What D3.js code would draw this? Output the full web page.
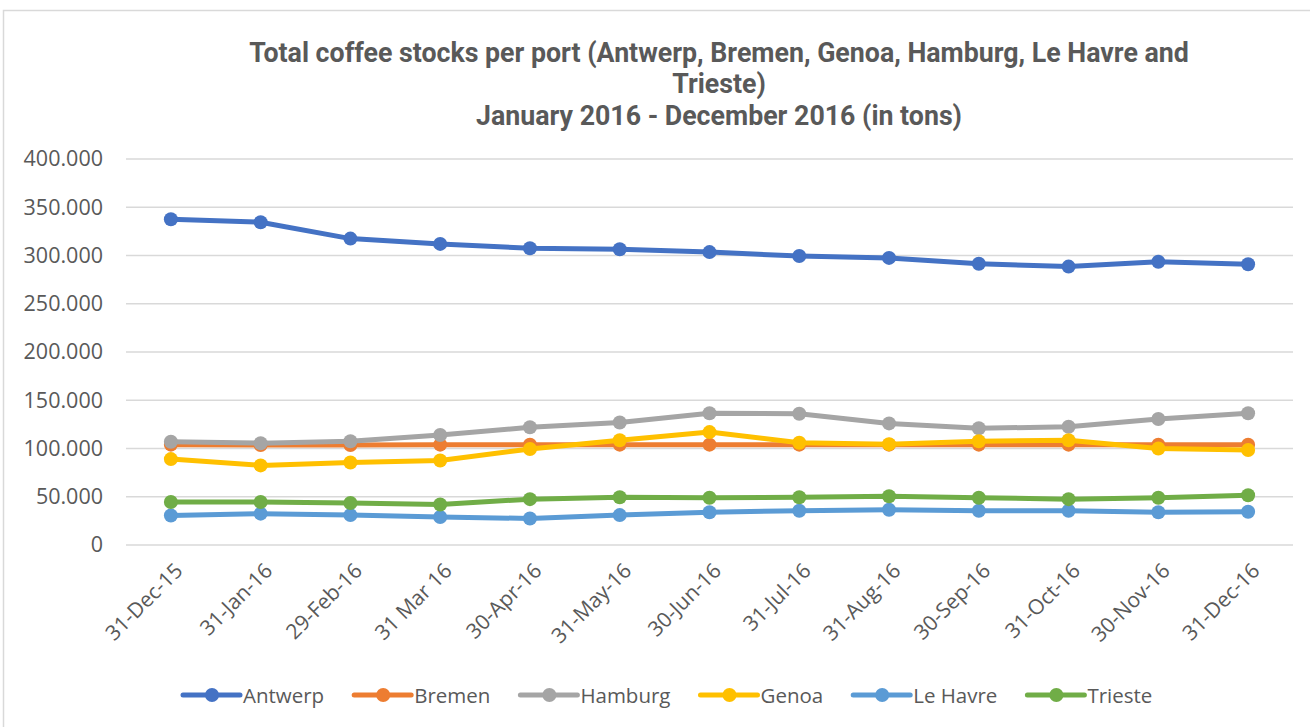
<!DOCTYPE html>
<html><head><meta charset="utf-8">
<script src="https://cdn.jsdelivr.net/npm/d3@7"></script>
<style>body{margin:0;background:#fff;}svg{display:block;}</style>
</head><body>
<svg id="chart" width="1310" height="727"></svg>
<script>
const categories = ["31-Dec-15","31-Jan-16","29-Feb-16","31 Mar 16","30-Apr-16","31-May-16","30-Jun-16","31-Jul-16","31-Aug-16","30-Sep-16","31-Oct-16","30-Nov-16","31-Dec-16"];
const antwerp = [337500,334500,317500,312000,307500,306500,303500,299500,297500,291500,288500,293500,291000];
const bremen  = [104000,103500,103500,104000,104000,104000,104000,104000,104000,104000,104000,104000,104000];
const hamburg = [107000,105500,107500,114000,122000,127000,136500,136000,126000,121000,122500,130500,136500];
const genoa   = [89000,82500,85500,87500,99500,108500,117000,106000,104500,107500,108500,100000,98500];
const leHavre = [30500,32500,31000,29000,27500,31000,34000,35500,36500,35500,35500,34000,34500];
const trieste = [44500,44500,43500,42000,47500,49500,49000,49500,50500,49000,47500,49000,51500];
const seriesNames = ["Antwerp","Bremen","Hamburg","Genoa","Le Havre","Trieste"];
const seriesColors = ["#4472C4","#ED7D31","#A5A5A5","#FFC000","#5B9BD5","#70AD47"];
const yTicks = [0,50000,100000,150000,200000,250000,300000,350000,400000];
const titleLines = ["Total coffee stocks per port (Antwerp, Bremen, Genoa, Hamburg, Le Havre and","Trieste)","January 2016 - December 2016 (in tons)"];

const series = [antwerp,bremen,hamburg,genoa,leHavre,trieste].map((v,i)=>({name:seriesNames[i],color:seriesColors[i],values:v}));

const svg = d3.select("#chart");
const FONT = "'Open Sans', 'Noto Sans', sans-serif";
const TEXT = "#595959";
// chart frame
svg.append("rect").attr("x",3.5).attr("y",10.5).attr("width",1320).attr("height",740)
  .attr("fill","#fff").attr("stroke","#d9d9d9").attr("stroke-width",1.5);

const plot = {left:126, right:1293, top:159, bottom:545};
const x = d3.scaleBand().domain(categories).range([plot.left, plot.right]);
const y = d3.scaleLinear().domain([0,400000]).range([plot.bottom, plot.top]);
const fmt = v => v===0 ? "0" : d3.format(",")(v).replace(/,/g,".");

// gridlines
svg.append("g").selectAll("line").data(yTicks).join("line")
  .attr("x1",plot.left).attr("x2",plot.right)
  .attr("y1",d=>y(d)).attr("y2",d=>y(d))
  .attr("stroke","#d9d9d9").attr("stroke-width",1.5);

// y axis labels
const yAxis = d3.axisLeft(y).tickValues(yTicks).tickFormat(fmt).tickSize(0).tickPadding(23);
const yg = svg.append("g").attr("transform",`translate(${plot.left},0)`).call(yAxis);
yg.select(".domain").remove();
yg.selectAll("text").attr("fill",TEXT).style("font-family",FONT).style("font-size","21.5px");

// x axis labels
const xAxis = d3.axisBottom(x).tickSize(0).tickPadding(0);
const xg = svg.append("g").attr("transform",`translate(0,${plot.bottom})`).call(xAxis);
xg.select(".domain").remove();
xg.selectAll("text").attr("fill",TEXT).style("font-family",FONT).style("font-size","21px")
  .attr("text-anchor","end").attr("dy",null).attr("y",0)
  .attr("transform","translate(13,27) rotate(-45)");

// lines
const line = d3.line().x((d,i)=>x(categories[i])+x.bandwidth()/2).y(d=>y(d));
const sg = svg.append("g").selectAll("g").data(series).join("g");
sg.append("path").attr("d",d=>line(d.values)).attr("fill","none").attr("stroke",d=>d.color)
  .attr("stroke-width",5).attr("stroke-linejoin","round").attr("stroke-linecap","round");
sg.selectAll("circle").data(d=>d.values.map((v,i)=>({v,i,color:d.color}))).join("circle")
  .attr("cx",d=>x(categories[d.i])+x.bandwidth()/2).attr("cy",d=>y(d.v)).attr("r",7).attr("fill",d=>d.color);

// title
const tt = svg.append("g").selectAll("text").data(titleLines).join("text")
  .attr("x",719).attr("y",(d,i)=>[62,93,125][i]).attr("text-anchor","middle")
  .attr("fill",TEXT).style("font-family","Roboto, 'Liberation Sans', Arial, sans-serif")
  .style("font-weight","bold").style("font-size","25px").text(d=>d);
const w0 = tt.nodes()[0].getComputedTextLength();
tt.style("font-size", (25*940/w0).toFixed(2)+"px");

// legend
const lg = svg.append("g").attr("transform","translate(0,695)");
let lx = 183;
series.forEach(s=>{
  const g = lg.append("g").attr("transform",`translate(${lx},0)`);
  g.append("line").attr("x1",0).attr("x2",57).attr("stroke",s.color).attr("stroke-width",5).attr("stroke-linecap","round");
  g.append("circle").attr("cx",29).attr("r",7).attr("fill",s.color);
  const t = g.append("text").attr("x",60).attr("y",8).attr("fill",TEXT)
    .style("font-family",FONT).style("font-size","20.5px").text(s.name);
  lx += 60 + t.node().getComputedTextLength() + 30;
});
</script>
</body></html>
